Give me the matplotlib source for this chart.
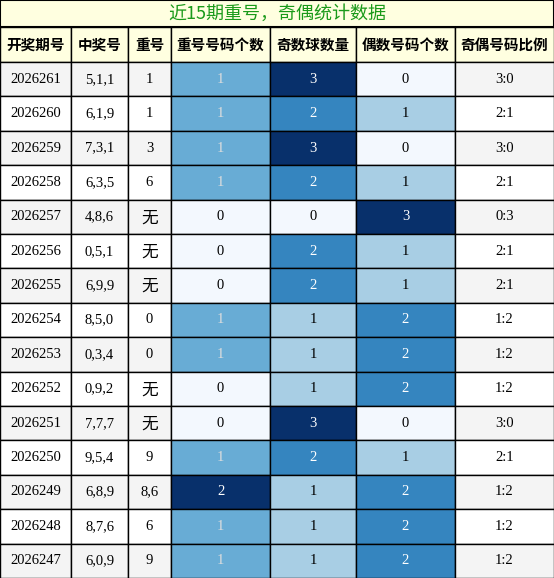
import matplotlib.pyplot as plt
from matplotlib.patches import Rectangle
from matplotlib import cm

plt.rcParams['font.family'] = ['Liberation Serif', 'Noto Sans CJK SC']

title = "近15期重号，奇偶统计数据"
headers = ["开奖期号", "中奖号", "重号", "重号号码个数", "奇数球数量", "偶数号码个数", "奇偶号码比例"]
periods = ["2026261", "2026260", "2026259", "2026258", "2026257", "2026256", "2026255",
           "2026254", "2026253", "2026252", "2026251", "2026250", "2026249", "2026248", "2026247"]
numbers = ["5,1,1", "6,1,9", "7,3,1", "6,3,5", "4,8,6", "0,5,1", "6,9,9",
           "8,5,0", "0,3,4", "0,9,2", "7,7,7", "9,5,4", "6,8,9", "8,7,6", "6,0,9"]
repeats = ["1", "1", "3", "6", "无", "无", "无", "0", "0", "无", "无", "9", "8,6", "6", "9"]
rep_count = [1, 1, 1, 1, 0, 0, 0, 1, 1, 0, 0, 1, 2, 1, 1]
odd_count = [3, 2, 3, 2, 0, 2, 2, 1, 1, 1, 3, 2, 1, 1, 1]
even_count = [0, 1, 0, 1, 3, 1, 1, 2, 2, 2, 0, 1, 2, 2, 2]
ratios = ["3:0", "2:1", "3:0", "2:1", "0:3", "2:1", "2:1", "1:2", "1:2", "1:2", "3:0", "2:1", "1:2", "1:2", "1:2"]

W, H = 554, 578
col_x = [0, 71, 128, 171, 270, 356, 455, 554]
title_h = 27
head_h = 35
row_h = (H - title_h - head_h) / len(periods)

fig = plt.figure(figsize=(W / 100, H / 100), dpi=100)
ax = fig.add_axes([0, 0, 1, 1])
ax.set_xlim(0, W)
ax.set_ylim(H, 0)
ax.axis('off')

blues = cm.get_cmap('Blues')

def heat(v, vmax):
    return blues(0.02 + 0.98 * v / vmax)

# title
ax.add_patch(Rectangle((0, 0), W, title_h, facecolor='#ffffe0', edgecolor='black', lw=1.5))
ax.text(W / 2, title_h / 2, title, ha='center', va='center', color='#1a9a1a', fontsize=13,
        family=['Noto Sans CJK SC'])

# header
for i, h in enumerate(headers):
    ax.add_patch(Rectangle((col_x[i], title_h), col_x[i + 1] - col_x[i], head_h,
                           facecolor='#ffffe0', edgecolor='black', lw=1))
    ax.text((col_x[i] + col_x[i + 1]) / 2, title_h + head_h / 2, h, ha='center', va='center',
            fontsize=10.5, fontweight='bold', family=['Noto Sans CJK SC'])

for r in range(len(periods)):
    y = title_h + head_h + r * row_h
    base = '#f4f4f4' if r % 2 == 0 else 'white'
    cells = [periods[r], numbers[r], repeats[r], rep_count[r], odd_count[r], even_count[r], ratios[r]]
    for c, val in enumerate(cells):
        fc = base
        tc = 'black'
        if c == 3:
            fc = heat(val, 2)
            tc = '#dddddd' if val == 1 else ('white' if val == 2 else 'black')
        elif c in (4, 5):
            fc = heat(val, 3)
            tc = 'white' if val >= 2 else 'black'
        ax.add_patch(Rectangle((col_x[c], y), col_x[c + 1] - col_x[c], row_h,
                               facecolor=fc, edgecolor='black', lw=1))
        txt = str(val)
        if txt == "无":
            ax.text((col_x[c] + col_x[c + 1]) / 2, y + row_h / 2 + 1, txt, ha='center', va='center',
                    fontsize=12, family=['Noto Sans CJK SC'])
        else:
            ax.text((col_x[c] + col_x[c + 1]) / 2, y + row_h / 2, txt, ha='center', va='center',
                    fontsize=10.5, color=tc)

fig.savefig('out.png', dpi=100)
